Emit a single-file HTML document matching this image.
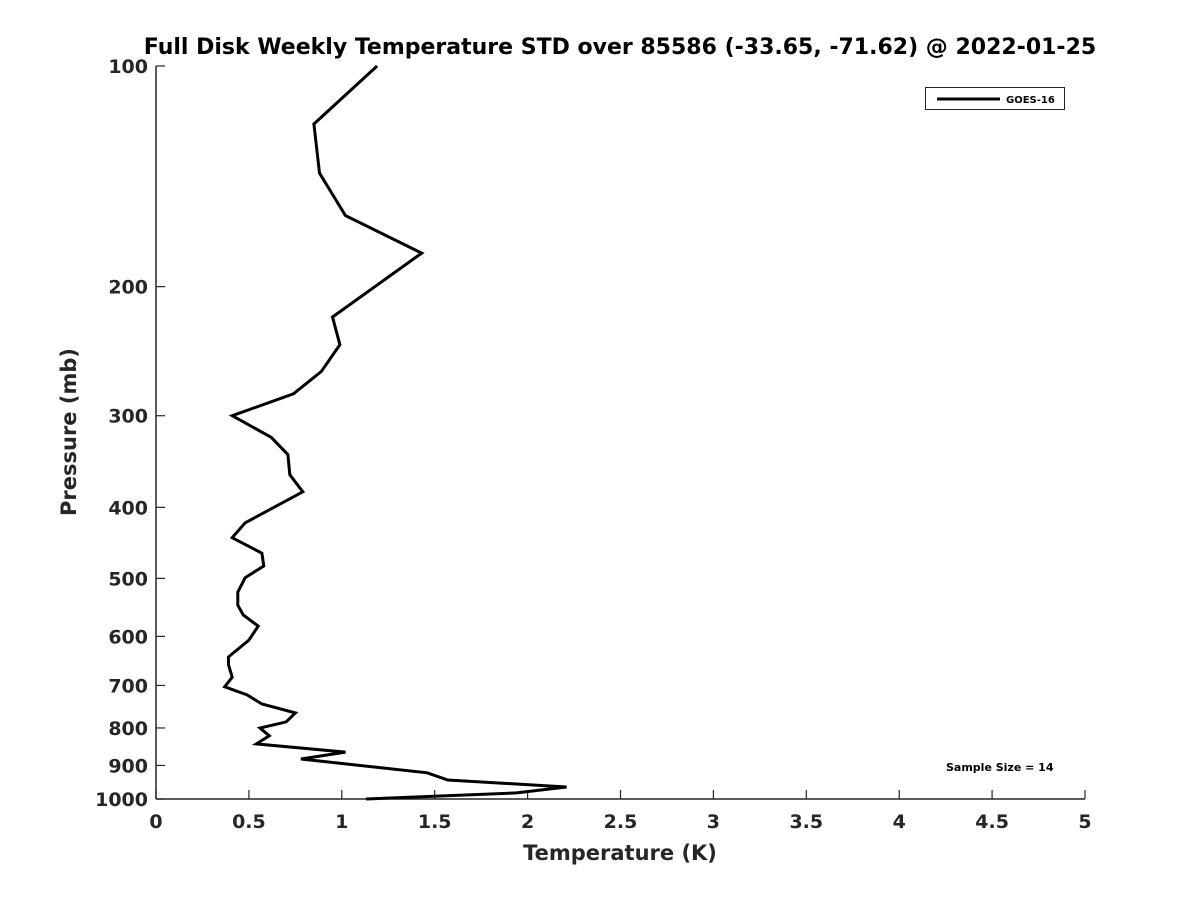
<!DOCTYPE html>
<html><head><meta charset="utf-8"><style>
body{margin:0;background:#fff;}
svg text{font-family:"DejaVu Sans","Liberation Sans",sans-serif;font-weight:bold;fill:#262626;}
</style></head><body>
<svg id="chart" width="1200" height="900" xmlns="http://www.w3.org/2000/svg">
<rect width="1200" height="900" fill="#fff"/>
<text x="620" y="54" text-anchor="middle" font-size="22" style="fill:#000">Full Disk Weekly Temperature STD over 85586 (-33.65, -71.62) @ 2022-01-25</text>
<g id="axes"></g>
<polyline id="series" fill="none" stroke="#000" stroke-width="3" stroke-linejoin="miter"/>
<text x="620" y="860" text-anchor="middle" font-size="21">Temperature (K)</text>
<text transform="translate(76,432) rotate(-90)" text-anchor="middle" font-size="21">Pressure (mb)</text>
<g>
<rect x="925.5" y="87.5" width="139" height="22" fill="#fff" stroke="#262626" stroke-width="1"/>
<line x1="937" y1="99" x2="1000" y2="99" stroke="#000" stroke-width="3"/>
<text x="1006" y="103" font-size="10" style="fill:#000">GOES-16</text>
</g>
<text x="946" y="771" font-size="11" style="fill:#000">Sample Size = 14</text>
</svg>
<script>
const pressures=[100,120,140,160,180,220,240,261,280,300,321,339,361,381,420,440,462,481,499,522,544,561,581,607,640,656,682,703,721,742,763,785,800,820,841,863,882,921,942,963,981,1000];
const stdValues=[1.19,0.85,0.88,1.02,1.43,0.95,0.99,0.89,0.74,0.41,0.62,0.71,0.72,0.79,0.48,0.41,0.57,0.58,0.48,0.44,0.44,0.47,0.55,0.50,0.39,0.39,0.41,0.37,0.49,0.57,0.75,0.70,0.56,0.61,0.54,1.02,0.78,1.46,1.57,2.21,1.94,1.13];
const xTicks=[0,0.5,1,1.5,2,2.5,3,3.5,4,4.5,5];
const xTickLabels=["0","0.5","1","1.5","2","2.5","3","3.5","4","4.5","5"];
const yTicks=[100,200,300,400,500,600,700,800,900,1000];
const yTickLabels=["100","200","300","400","500","600","700","800","900","1000"];
const X0=156,X1=1085,Y0=66,Y1=799;
function xs(v){return X0+(v-0)/(5-0)*(X1-X0);}
function ys(p){return Y0+(Math.log10(p)-2)/1*(Y1-Y0);}
const NS="http://www.w3.org/2000/svg";
const ax=document.getElementById('axes');
function mk(t,a){const e=document.createElementNS(NS,t);for(const k in a)e.setAttribute(k,a[k]);return e;}
let l=mk('line',{x1:X0,y1:Y0,x2:X0,y2:Y1,stroke:'#262626','stroke-width':1.5});


ax.appendChild(l);
l=mk('line',{x1:X0,y1:Y1,x2:X1,y2:Y1,stroke:'#262626','stroke-width':1.5});


ax.appendChild(l);
xTicks.forEach((v,i)=>{const x=xs(v);
 const t=mk('line',{x1:x,y1:Y1,x2:x,y2:Y1-9,stroke:'#262626','stroke-width':1.2});
 
 
 ax.appendChild(t);
 const tx=mk('text',{x:x,y:Y1+29,'text-anchor':'middle','font-size':19});tx.textContent=xTickLabels[i];
 
 
 ax.appendChild(tx);});
yTicks.forEach((p,i)=>{const y=ys(p);
 const t=mk('line',{x1:X0,y1:y,x2:X0+9,y2:y,stroke:'#262626','stroke-width':1.2});
 
 
 ax.appendChild(t);
 const tx=mk('text',{x:X0-8,y:y+7,'text-anchor':'end','font-size':19});tx.textContent=yTickLabels[i];
 
 
 ax.appendChild(tx);});
document.getElementById('series').setAttribute('points',pressures.map((p,i)=>xs(stdValues[i]).toFixed(1)+','+ys(p).toFixed(1)).join(' '));
</script>
</body></html>
